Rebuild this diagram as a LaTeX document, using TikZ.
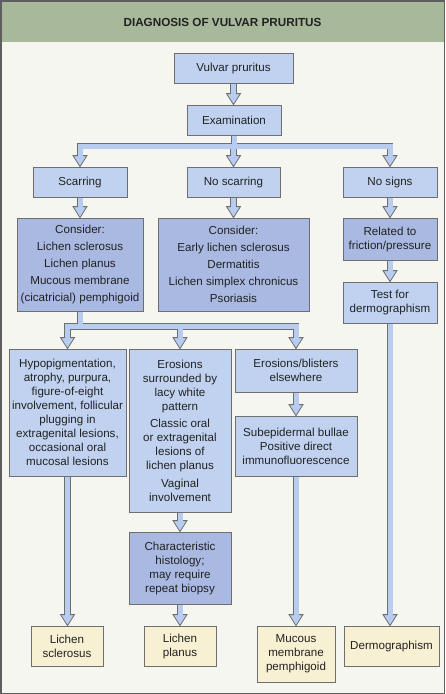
\documentclass[tikz,border=0pt]{standalone}
\usepackage{fontspec}
\setmainfont{Liberation Sans}
\usetikzlibrary{calc}
\pgfdeclarelayer{bg}
\pgfdeclarelayer{heads}
\pgfdeclarelayer{shout}
\pgfdeclarelayer{shin}
\pgfsetlayers{bg,heads,shout,shin,main}
\definecolor{pagebg}{HTML}{F6F6F1}
\definecolor{titlebg}{HTML}{A8B89B}
\definecolor{frameln}{HTML}{5E5E5E}
\definecolor{lightbox}{HTML}{C0D2F0}
\definecolor{darkbox}{HTML}{A9B9E2}
\definecolor{creambox}{HTML}{F8F0D2}
\definecolor{boxln}{HTML}{6E6E6E}
\definecolor{arrfill}{HTML}{B8CCF0}
\definecolor{arrln}{HTML}{6E6E6E}
\definecolor{txt}{HTML}{222222}
\newcommand\vshaft[2]{%
  \begin{pgfonlayer}{shout}\draw[aout] (#1) -- ([yshift=11pt]#2);\end{pgfonlayer}
  \begin{pgfonlayer}{shin}\draw[ain] (#1) -- ([yshift=10pt]#2);\end{pgfonlayer}
  \begin{pgfonlayer}{heads}\filldraw[ahd] ([shift={(-7pt,11pt)}]#2) -- ([shift={(7pt,11pt)}]#2) -- (#2) -- cycle;\end{pgfonlayer}}
\newcommand\hshaft[2]{%
  \begin{pgfonlayer}{shout}\draw[aout,line cap=rect] (#1) -- (#2);\end{pgfonlayer}
  \begin{pgfonlayer}{shin}\draw[ain,line cap=rect] (#1) -- (#2);\end{pgfonlayer}}
\begin{document}
\begin{tikzpicture}[x=1pt,y=-1pt,
  every node/.style={text=txt},
  box/.style={draw=boxln, line width=0.8pt, inner sep=0pt, align=center,
    font=\fontsize{11.6}{14}\selectfont},
  lbox/.style={box, fill=lightbox},
  dbox/.style={box, fill=darkbox},
  cbox/.style={box, fill=creambox},
  aout/.style={draw=arrln, line width=6.6pt},
  ain/.style={draw=arrfill, line width=5pt},
  ahd/.style={fill=arrfill, draw=arrln, line width=0.8pt, line join=miter}]
\useasboundingbox (0,0) rectangle (445,694);
\begin{pgfonlayer}{bg}
\fill[pagebg] (0,0) rectangle (445,694);
\fill[titlebg] (0,0) rectangle (445,41.7);
\end{pgfonlayer}
\node[font=\fontsize{11.7}{14}\selectfont\bfseries] (title) at (222.5,22) {DIAGNOSIS OF VULVAR PRURITUS};

\node[lbox, minimum width=119pt, minimum height=30pt] (vp) at (233.5,68) {Vulvar pruritus};
\node[lbox, minimum width=94pt, minimum height=30pt] (ex) at (234,120) {Examination};
\node[lbox, minimum width=94pt, minimum height=30pt] (sc) at (80,182) {Scarring};
\node[lbox, minimum width=93pt, minimum height=30pt] (ns) at (233.5,182) {No scarring};
\node[lbox, minimum width=94pt, minimum height=30pt] (nsg) at (390,182) {No signs};
\node[dbox, minimum width=126pt, minimum height=93pt] (c1) at (80,264.5)
  {Consider:\\[3pt]Lichen sclerosus\\[3pt]Lichen planus\\[3pt]Mucous membrane\\[3pt](cicatricial) pemphigoid};
\node[dbox, minimum width=151pt, minimum height=93pt] (c2) at (233.5,264.5)
  {Consider:\\[3pt]Early lichen sclerosus\\[3pt]Dermatitis\\[3pt]Lichen simplex chronicus\\[3pt]Psoriasis};
\node[dbox, minimum width=94pt, minimum height=42pt] (rel) at (390,239) {Related to\\friction/pressure};
\node[lbox, minimum width=94pt, minimum height=41pt] (test) at (390,302.5) {Test for\\dermographism};
\node[lbox, minimum width=117pt, minimum height=127pt] (hypo) at (67.5,412.5)
  {Hypopigmentation,\\atrophy, purpura,\\figure-of-eight\\involvement, follicular\\plugging in\\extragenital lesions,\\occasional oral\\mucosal lesions};
\node[lbox, minimum width=102pt, minimum height=163pt] (ero) at (180,430.5)
  {Erosions\\surrounded by\\lacy white\\pattern\\[3.5pt]Classic oral\\or extragenital\\lesions of\\lichen planus\\[3.5pt]Vaginal\\involvement};
\node[lbox, minimum width=122pt, minimum height=43pt] (eb) at (296,370.5) {Erosions/blisters\\elsewhere};
\node[lbox, minimum width=122pt, minimum height=60pt] (sub) at (296,446)
  {Subepidermal bullae\\Positive direct\\immunofluorescence};
\node[dbox, minimum width=102pt, minimum height=72pt] (char) at (180,568)
  {Characteristic\\histology;\\may require\\repeat biopsy};
\node[cbox, minimum width=72pt, minimum height=40pt] (ls) at (67,646) {Lichen\\sclerosus};
\node[cbox, minimum width=72pt, minimum height=40pt] (lp) at (180,646) {Lichen\\planus};
\node[cbox, minimum width=78pt, minimum height=56pt] (mm) at (296,654) {Mucous\\membrane\\pemphigoid};
\node[cbox, minimum width=95pt, minimum height=40pt] (dg) at (391.5,646) {Dermographism};

% simple arrows
\coordinate (t1) at (vp.south |- ex.north);
\vshaft{vp.south}{t1}
\coordinate (t2) at (sc.south |- c1.north);
\vshaft{sc.south}{t2}
\coordinate (t3) at (ns.south |- c2.north);
\vshaft{ns.south}{t3}
\coordinate (t4) at (nsg.south |- rel.north);
\vshaft{nsg.south}{t4}
\coordinate (t5) at (rel.south |- test.north);
\vshaft{rel.south}{t5}
\coordinate (t6) at (test.south |- dg.north);
\vshaft{test.south}{t6}
\coordinate (t7) at (ero.south |- char.north);
\vshaft{ero.south}{t7}
\coordinate (t8) at (char.south |- lp.north);
\vshaft{char.south}{t8}
\coordinate (t9) at (eb.south |- sub.north);
\vshaft{eb.south}{t9}
\coordinate (t10) at (sub.south |- mm.north);
\vshaft{sub.south}{t10}
\coordinate (t11) at (hypo.south |- ls.north);
\vshaft{hypo.south}{t11}

% branch 1
\coordinate (b1s) at (ex.south |- 0,146);
\coordinate (b1l) at (sc.north |- 0,146);
\coordinate (b1m) at (ns.north |- 0,146);
\coordinate (b1r) at (nsg.north |- 0,146);
\begin{pgfonlayer}{shout}\draw[aout] (ex.south) -- (b1s);\end{pgfonlayer}
\begin{pgfonlayer}{shin}\draw[ain] (ex.south) -- (b1s);\end{pgfonlayer}
\hshaft{b1l}{b1r}
\vshaft{b1l}{sc.north}
\vshaft{b1m}{ns.north}
\vshaft{b1r}{nsg.north}

% branch 2
\coordinate (b2s) at (c1.south |- 0,326.3);
\coordinate (b2l) at (hypo.north |- 0,326.3);
\coordinate (b2m) at (ero.north |- 0,326.3);
\coordinate (b2r) at (eb.north |- 0,326.3);
\begin{pgfonlayer}{shout}\draw[aout] (c1.south) -- (b2s);\end{pgfonlayer}
\begin{pgfonlayer}{shin}\draw[ain] (c1.south) -- (b2s);\end{pgfonlayer}
\hshaft{b2l}{b2r}
\vshaft{b2l}{hypo.north}
\vshaft{b2m}{ero.north}
\vshaft{b2r}{eb.north}

\draw[frameln, line width=1.5pt] (0.75,0.75) rectangle (444.25,693.25);
\end{tikzpicture}
\end{document}
